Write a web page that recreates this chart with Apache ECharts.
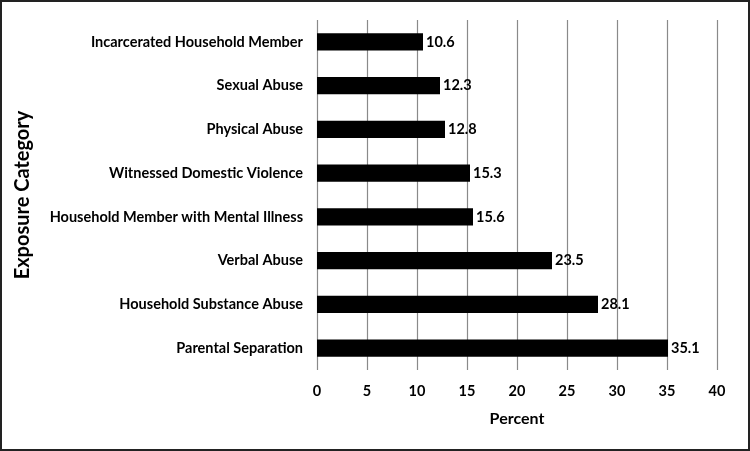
<!DOCTYPE html>
<html>
<head>
<meta charset="utf-8">
<script src="https://cdn.jsdelivr.net/npm/echarts@6/dist/echarts.min.js"></script>
<style>
  html, body { margin: 0; padding: 0; background: #fff; }
  #chart { width: 750px; height: 451px; box-sizing: border-box; border: 2px solid #222; }
</style>
</head>
<body>
<div id="chart"></div>
<script>
// Categories bottom-to-top (as ECharts draws a category y axis)
const categories = [
    'Parental Separation',
    'Household Substance Abuse',
    'Verbal Abuse',
    'Household Member with Mental Illness',
    'Witnessed Domestic Violence',
    'Physical Abuse',
    'Sexual Abuse',
    'Incarcerated Household Member'
];
const percentValues = [35.1, 28.1, 23.5, 15.6, 15.3, 12.8, 12.3, 10.6];
const xTicks = { min: 0, max: 40, interval: 5 };

const fontFamily = 'Lato, "Open Sans", sans-serif';

const chart = echarts.init(document.getElementById('chart'));

chart.setOption({
    animation: false,
    textStyle: { fontFamily: fontFamily },
    grid: { left: 315, right: 31, top: 18, bottom: 79 },
    xAxis: {
        type: 'value',
        min: xTicks.min,
        max: xTicks.max,
        interval: xTicks.interval,
        name: 'Percent',
        nameLocation: 'middle',
        nameGap: 41,
        nameTextStyle: { fontFamily: fontFamily, fontWeight: 'bold', fontSize: 16, color: '#000' },
        axisLine: { show: false },
        axisTick: { show: false },
        axisLabel: { fontFamily: fontFamily, fontWeight: 'bold', fontSize: 14.5, color: '#000', margin: 14 },
        splitLine: { show: true, lineStyle: { color: '#8a8a8a', width: 1.2 } }
    },
    yAxis: {
        type: 'category',
        data: categories,
        name: 'Exposure Category',
        nameLocation: 'middle',
        nameGap: 284,
        nameRotate: 90,
        nameTextStyle: { fontFamily: fontFamily, fontWeight: 'bold', fontSize: 20, color: '#000' },
        axisLine: { show: false },
        axisTick: { show: false },
        axisLabel: { fontFamily: fontFamily, fontWeight: 'bold', fontSize: 14.5, color: '#000', margin: 14 }
    },
    series: [{
        type: 'bar',
        data: percentValues,
        barCategoryGap: '61%',
        itemStyle: { color: '#000' },
        label: {
            show: true,
            position: 'right',
            distance: 3,
            fontFamily: fontFamily,
            fontWeight: 'bold',
            fontSize: 14.5,
            color: '#000'
        }
    }]
});
</script>
</body>
</html>
